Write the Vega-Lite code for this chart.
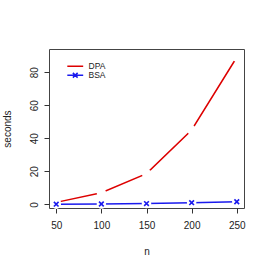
{
  "$schema": "https://vega.github.io/schema/vega-lite/v6.json",
  "width": 195,
  "height": 159,
  "autosize": "none",
  "padding": {"left": 49, "top": 49, "right": 26, "bottom": 62},
  "background": "white",
  "config": {
    "view": {"stroke": "#444", "strokeWidth": 1},
    "font": "Liberation Sans",
    "axis": {
      "domain": false, "grid": false, "ticks": true, "tickSize": 5, "tickColor": "#333",
      "labelFont": "Liberation Sans", "labelFontSize": 10, "labelColor": "#222",
      "titleFont": "Liberation Sans", "titleFontSize": 10, "titleFontWeight": "normal", "titleColor": "#222"
    }
  },
  "data": {"values": [
    {"n": 50, "series": "DPA", "seconds": 1.2},
    {"n": 100, "series": "DPA", "seconds": 7.0},
    {"n": 150, "series": "DPA", "seconds": 18.6},
    {"n": 200, "series": "DPA", "seconds": 45.0},
    {"n": 250, "series": "DPA", "seconds": 89.0},
    {"n": 50, "series": "BSA", "seconds": 0.1},
    {"n": 100, "series": "BSA", "seconds": 0.2},
    {"n": 150, "series": "BSA", "seconds": 0.5},
    {"n": 200, "series": "BSA", "seconds": 1.0},
    {"n": 250, "series": "BSA", "seconds": 1.6}
  ]},
  "encoding": {
    "x": {"field": "n", "type": "quantitative", "scale": {"domain": [42, 258], "nice": false, "zero": false},
      "axis": {"values": [50, 100, 150, 200, 250], "labelPadding": 7, "titlePadding": 16, "title": "n"}},
    "y": {"field": "seconds", "type": "quantitative", "scale": {"domain": [-2.2, 94], "nice": false, "zero": false},
      "axis": {"values": [0, 20, 40, 60, 80], "labelAngle": -90, "labelAlign": "center", "labelBaseline": "bottom", "labelPadding": 5, "titlePadding": 17, "title": "seconds"}}
  },
  "layer": [
    {
      "mark": {"type": "line", "strokeWidth": 1.5},
      "encoding": {
        "color": {"field": "series", "type": "nominal",
          "scale": {"domain": ["DPA", "BSA"], "range": ["#dd0000", "#1a1aee"]},
          "legend": {
            "title": null, "orient": "none", "legendX": 22, "legendY": 13, "padding": 0,
            "labelFont": "Liberation Sans", "labelFontSize": 8.5, "labelColor": "#222", "labelOffset": 9,
            "symbolType": "M-3,0H3", "symbolSize": 28, "symbolStrokeWidth": 1.5, "rowPadding": -3,
            "encode": {"symbols": {"update": {
              "shape": {"signal": "datum.value === 'BSA' ? 'M-3,0H3M-0.9,-0.9L0.9,0.9M-0.9,0.9L0.9,-0.9' : 'M-3,0H3'"},
              "fill": {"value": "transparent"}
            }}}
          }}
      }
    },
    {
      "mark": {"type": "point", "shape": "circle", "filled": true, "color": "white", "opacity": 1, "size": 90}
    },
    {
      "transform": [{"filter": "datum.series === 'BSA'"}],
      "mark": {"type": "point", "shape": "M-1,-1L1,1M-1,1L1,-1", "filled": false, "color": "#1a1aee", "strokeWidth": 1.6, "size": 22, "opacity": 1}
    }
  ]
}
